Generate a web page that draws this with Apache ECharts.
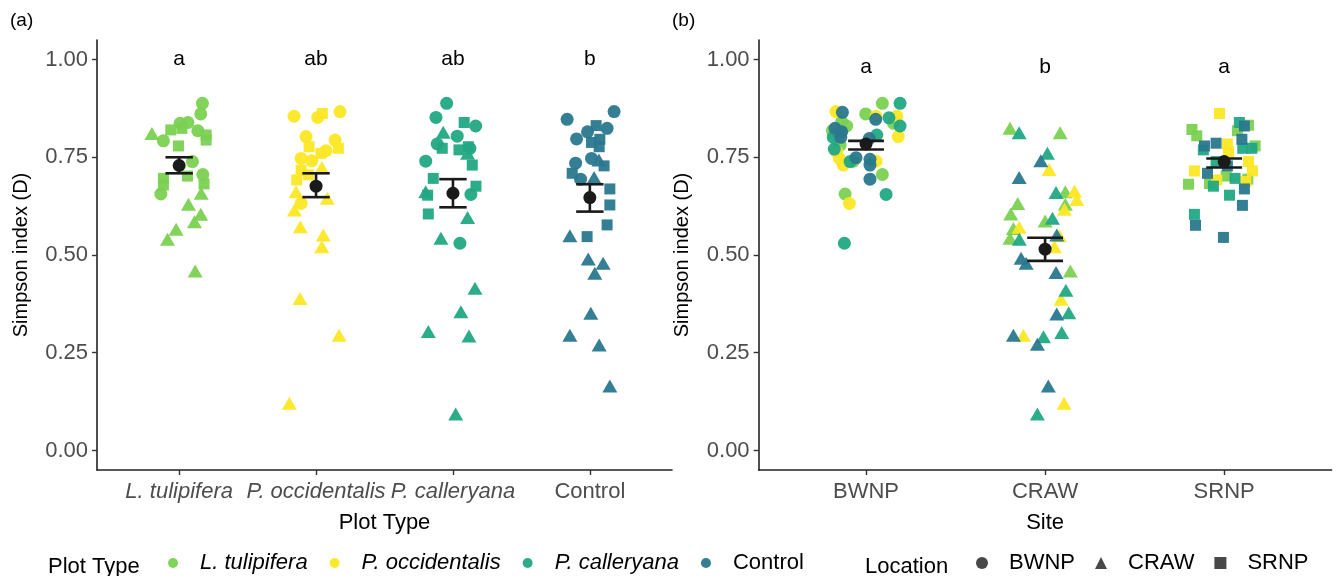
<!DOCTYPE html>
<html>
<head>
<meta charset="utf-8">
<script src="https://cdn.jsdelivr.net/npm/echarts@6/dist/echarts.min.js"></script>
<style>html,body{margin:0;padding:0;background:#fff}#c{width:1336px;height:576px}</style>
</head>
<body>
<div id="c"></div>
<script>
// ---------------- DATA ----------------
const plotTypes = ['L. tulipifera', 'P. occidentalis', 'P. calleryana', 'Control'];
const sites = ['BWNP', 'CRAW', 'SRNP'];
const yTicks = [0, 0.25, 0.5, 0.75, 1];

// Panel (a): [jittered x position, Simpson D, site index]
const aTulipifera = [[1.170,0.888,0],[1.158,0.861,0],[0.801,0.811,1],[0.939,0.820,2],[1.007,0.837,0],[1.064,0.839,0],[1.020,0.824,2],[0.885,0.792,0],[1.136,0.818,0],[1.197,0.807,2],[1.197,0.794,2],[0.995,0.779,2],[1.097,0.739,0],[1.061,0.702,2],[1.173,0.706,0],[0.885,0.696,2],[1.182,0.682,2],[0.885,0.679,2],[0.866,0.656,0],[1.161,0.658,1],[1.068,0.630,1],[1.158,0.604,1],[1.112,0.585,1],[0.978,0.566,1],[0.915,0.540,1],[1.117,0.459,1]];
const aOccidentalis = [[1.839,0.855,0],[2.012,0.852,0],[2.046,0.862,2],[2.175,0.867,0],[1.927,0.803,0],[2.139,0.794,0],[1.949,0.777,2],[2.163,0.773,2],[2.073,0.767,0],[2.036,0.760,2],[1.891,0.747,0],[1.969,0.741,0],[2.042,0.724,1],[1.891,0.717,2],[1.944,0.705,2],[1.859,0.692,2],[1.854,0.662,1],[2.082,0.645,1],[1.891,0.632,0],[1.842,0.615,1],[1.885,0.572,1],[2.053,0.551,1],[2.042,0.521,1],[1.883,0.389,1],[2.168,0.295,1],[1.805,0.121,1]];
const aCalleryana = [[2.954,0.888,0],[2.876,0.852,0],[3.082,0.839,2],[3.166,0.830,0],[2.929,0.814,1],[3.031,0.804,0],[2.885,0.784,0],[2.922,0.773,2],[3.044,0.769,2],[3.124,0.773,0],[3.112,0.777,2],[3.107,0.760,1],[2.801,0.740,0],[3.141,0.730,2],[2.856,0.696,2],[3.168,0.676,2],[2.801,0.662,1],[2.815,0.653,2],[3.131,0.655,0],[2.820,0.605,2],[3.107,0.596,1],[2.912,0.543,1],[3.051,0.530,0],[3.161,0.415,1],[3.058,0.355,1],[2.820,0.304,1],[3.117,0.293,1],[3.020,0.093,1]];
const aControl = [[4.177,0.867,0],[3.834,0.847,0],[4.046,0.831,2],[4.126,0.824,0],[3.983,0.815,0],[3.903,0.797,0],[4.012,0.788,2],[4.073,0.796,2],[4.068,0.777,2],[4.012,0.747,0],[3.896,0.735,0],[4.066,0.743,1],[4.104,0.728,2],[3.871,0.709,2],[3.932,0.694,0],[4.031,0.698,1],[4.146,0.669,2],[4.146,0.628,2],[4.126,0.577,2],[3.980,0.547,2],[3.854,0.549,1],[3.988,0.490,1],[4.097,0.479,1],[4.036,0.453,1],[4.007,0.351,1],[3.854,0.295,1],[4.068,0.270,1],[4.146,0.165,1]];

// Panel (b): [jittered x position, Simpson D, site index]
const bTulipifera = [[1.091,0.888,0],[0.998,0.861,0],[0.864,0.841,0],[0.892,0.830,0],[1.153,0.837,0],[0.812,0.818,0],[0.855,0.781,0],[0.929,0.740,0],[1.091,0.706,0],[0.883,0.656,0],
  [1.804,0.824,1],[2.084,0.813,1],[2.113,0.662,1],[2.113,0.630,1],[1.847,0.632,1],[1.808,0.605,1],[2.000,0.587,1],[1.823,0.568,1],[1.804,0.543,1],[2.141,0.459,1],
  [3.136,0.832,2],[2.820,0.821,2],[3.074,0.818,2],[2.847,0.805,2],[3.173,0.779,2],[3.011,0.702,2],[3.132,0.694,2],[2.918,0.683,2],[2.801,0.681,2]];
const bOccidentalis = [[0.832,0.867,0],[1.056,0.855,0],[1.172,0.855,0],[1.180,0.803,0],[0.836,0.764,0],[0.851,0.747,0],[1.056,0.740,0],[0.873,0.730,0],[0.907,0.632,0],
  [2.022,0.719,1],[2.164,0.664,1],[2.177,0.642,1],[2.108,0.617,1],[1.855,0.571,1],[2.080,0.549,1],[2.052,0.521,1],[2.089,0.387,1],[1.879,0.295,1],[2.106,0.121,1],
  [2.974,0.862,2],[3.018,0.784,2],[3.024,0.764,2],[3.136,0.739,2],[2.834,0.715,2],[3.158,0.715,2],[2.959,0.692,2],[3.121,0.688,2]];
const bCalleryana = [[1.190,0.888,0],[1.128,0.851,0],[1.190,0.830,0],[1.060,0.807,0],[0.817,0.801,0],[0.823,0.771,0],[0.911,0.739,0],[1.112,0.655,0],[0.879,0.530,0],
  [1.855,0.813,1],[2.013,0.760,1],[2.061,0.660,1],[2.041,0.594,1],[1.856,0.540,1],[2.116,0.410,1],[2.132,0.352,1],[1.991,0.291,1],[2.093,0.302,1],[1.957,0.093,1],
  [3.085,0.839,2],[2.884,0.769,2],[3.104,0.773,2],[3.155,0.773,2],[2.955,0.739,2],[3.061,0.696,2],[2.940,0.676,2],[3.030,0.653,2],[2.834,0.604,2]];
const bControl = [[0.868,0.865,0],[1.054,0.847,0],[0.827,0.824,0],[0.864,0.815,0],[0.859,0.801,0],[1.018,0.798,0],[0.944,0.749,0],[1.022,0.745,0],[1.022,0.730,0],[1.022,0.694,0],
  [1.976,0.741,1],[1.855,0.698,1],[2.065,0.551,1],[1.866,0.492,1],[1.894,0.479,1],[2.061,0.455,1],[2.065,0.349,1],[1.823,0.295,1],[1.957,0.272,1],[2.018,0.165,1],
  [3.113,0.830,2],[3.099,0.796,2],[2.890,0.779,2],[2.955,0.786,2],[3.018,0.728,2],[2.907,0.709,2],[3.113,0.669,2],[3.102,0.627,2],[2.840,0.576,2],[2.996,0.545,2]];

// Means and standard-error bounds
const aMean = [0.729, 0.676, 0.658, 0.647];
const aLow  = [0.709, 0.648, 0.622, 0.611];
const aHigh = [0.750, 0.709, 0.694, 0.681];
const bMean = [0.784, 0.515, 0.739];
const bLow  = [0.770, 0.485, 0.724];
const bHigh = [0.792, 0.544, 0.747];

// Compact letter display
const aLetters = ['a', 'ab', 'ab', 'b'];
const bLetters = ['a', 'b', 'a'];
const aLetterY = [1.0, 1.0, 1.0, 1.0];
const bLetterY = [0.98, 0.98, 0.98];

// ---------------- STYLE ----------------
const FONT = "'Liberation Sans', Arial, Helvetica, sans-serif";
const FS = 22;
const typeColors = ['#7AD151', '#FDE725', '#22A884', '#2A788E'];
const shapeOf = ['circle', 'triangle', 'rect'];
const sizeOf = [[13, 13], [15, 13], [11, 11]];
const INK = '#1a1a1a';

const chart = echarts.init(document.getElementById('c'), null, {renderer: 'canvas'});

function xAxisFor(gridIndex, cats, name) {
  return {
    type: 'value', gridIndex, min: 0.4, max: cats.length + 0.6,
    name, nameLocation: 'middle', nameGap: 42,
    nameTextStyle: {fontFamily: FONT, fontSize: FS, color: '#000'},
    axisLine: {show: true, onZero: false, lineStyle: {color: '#222', width: 1.6}},
    axisTick: {show: true, length: 5, customValues: cats.map((c, i) => i + 1), lineStyle: {color: '#333', width: 1.4}},
    axisLabel: {
      customValues: cats.map((c, i) => i + 1), margin: 11,
      fontFamily: FONT, fontSize: FS, color: '#4D4D4D',
      formatter: v => { const n = cats[Math.round(v) - 1]; return n === 'Control' || sites.includes(n) ? n : '{i|' + n + '}'; },
      rich: {i: {fontStyle: 'italic', fontFamily: FONT, fontSize: FS, color: '#4D4D4D'}}
    },
    splitLine: {show: false}
  };
}
function yAxisFor(gridIndex) {
  return {
    type: 'value', gridIndex, min: -0.05, max: 1.05,
    name: 'Simpson index (D)', nameLocation: 'middle', nameGap: 66,
    nameTextStyle: {fontFamily: FONT, fontSize: 20, color: '#000'},
    axisLine: {show: true, onZero: false, lineStyle: {color: '#222', width: 1.6}},
    axisTick: {show: true, length: 5, customValues: yTicks, lineStyle: {color: '#333', width: 1.4}},
    axisLabel: {customValues: yTicks, margin: 9, fontFamily: FONT, fontSize: FS, color: '#4D4D4D', formatter: v => v.toFixed(2)},
    splitLine: {show: false}
  };
}
function pointSeries(name, data, color, idx) {
  return {
    type: 'scatter', name, xAxisIndex: idx, yAxisIndex: idx, data,
    symbol: v => shapeOf[v[2]], symbolSize: v => sizeOf[v[2]],
    itemStyle: {color, opacity: 0.95}, emphasis: {disabled: true}, z: 2
  };
}
function errSeries(mean, lo, hi, idx) {
  return {
    type: 'custom', xAxisIndex: idx, yAxisIndex: idx, z: 5, silent: true,
    data: mean.map((m, i) => [i + 1, m, lo[i], hi[i]]),
    encode: {x: 0, y: [1, 2, 3]},
    renderItem(params, api) {
      const x = api.value(0);
      const pm = api.coord([x, api.value(1)]);
      const pl = api.coord([x, api.value(2)]);
      const ph = api.coord([x, api.value(3)]);
      const hw = (api.coord([x + 0.1, 0])[0] - api.coord([x - 0.1, 0])[0]) / 2;
      const st = {stroke: INK, lineWidth: 2.6};
      return {type: 'group', children: [
        {type: 'line', shape: {x1: pl[0], y1: pl[1], x2: ph[0], y2: ph[1]}, style: st},
        {type: 'line', shape: {x1: pl[0] - hw, y1: pl[1], x2: pl[0] + hw, y2: pl[1]}, style: st},
        {type: 'line', shape: {x1: ph[0] - hw, y1: ph[1], x2: ph[0] + hw, y2: ph[1]}, style: st},
        {type: 'circle', shape: {cx: pm[0], cy: pm[1], r: 6.5}, style: {fill: INK}}
      ]};
    }
  };
}
function letterSeries(letters, ys, idx) {
  return {
    type: 'custom', xAxisIndex: idx, yAxisIndex: idx, z: 6, silent: true,
    data: letters.map((l, i) => [i + 1, ys[i]]),
    renderItem(params, api) {
      const p = api.coord([api.value(0), api.value(1)]);
      return {type: 'text', x: p[0], y: p[1], style: {text: letters[params.dataIndex], fontFamily: FONT, fontSize: 21, fill: '#000', align: 'center', verticalAlign: 'middle'}};
    }
  };
}

const aSets = [aTulipifera, aOccidentalis, aCalleryana, aControl];
const bSets = [bTulipifera, bOccidentalis, bCalleryana, bControl];

const series = [];
aSets.forEach((d, i) => series.push(pointSeries(plotTypes[i], d, typeColors[i], 0)));
bSets.forEach((d, i) => series.push(pointSeries(plotTypes[i], d, typeColors[i], 1)));
series.push(errSeries(aMean, aLow, aHigh, 0));
series.push(errSeries(bMean, bLow, bHigh, 1));
series.push(letterSeries(aLetters, aLetterY, 0));
series.push(letterSeries(bLetters, bLetterY, 1));
sites.forEach((s, i) => series.push({type: 'scatter', name: s, xAxisIndex: 0, yAxisIndex: 0, data: [], symbol: shapeOf[i], itemStyle: {color: INK}}));

chart.setOption({
  animation: false,
  textStyle: {fontFamily: FONT},
  grid: [
    {left: 97, top: 40, width: 575, height: 430},
    {left: 758.6, top: 40, width: 573, height: 430}
  ],
  xAxis: [xAxisFor(0, plotTypes, 'Plot Type'), xAxisFor(1, sites, 'Site')],
  yAxis: [yAxisFor(0), yAxisFor(1)],
  legend: [
    {
      left: 163, top: 547, itemWidth: 10, itemHeight: 10, itemGap: 22, selectedMode: false,
      data: plotTypes.map(n => ({name: n, icon: 'circle'})),
      formatter: n => n === 'Control' ? n : '{i|' + n + '}',
      textStyle: {fontFamily: FONT, fontSize: FS, color: '#000', padding: [0, 0, 0, 17],
        rich: {i: {fontStyle: 'italic', fontFamily: FONT, fontSize: FS, color: '#000'}}}
    },
    {
      left: 971, top: 547, itemWidth: 12, itemHeight: 12, itemGap: 20, selectedMode: false,
      data: sites.map((n, i) => ({name: n, icon: shapeOf[i]})),
      textStyle: {fontFamily: FONT, fontSize: FS, color: '#000', padding: [0, 0, 0, 16]}
    }
  ],
  graphic: [
    {type: 'text', left: 10, top: 11, style: {text: '(a)', fontFamily: FONT, fontSize: 19, fill: '#000'}},
    {type: 'text', left: 672, top: 11, style: {text: '(b)', fontFamily: FONT, fontSize: 19, fill: '#000'}},
    {type: 'text', left: 48, top: 556, style: {text: 'Plot Type', fontFamily: FONT, fontSize: FS, fill: '#000'}},
    {type: 'text', left: 865, top: 556, style: {text: 'Location', fontFamily: FONT, fontSize: FS, fill: '#000'}}
  ],
  series
});
</script>
</body>
</html>
